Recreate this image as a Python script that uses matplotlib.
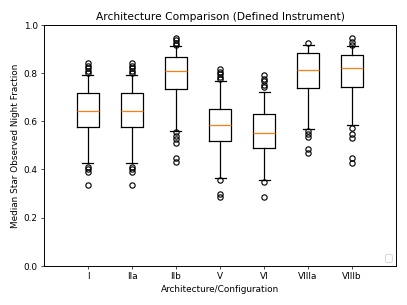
import matplotlib
matplotlib.use("Agg")
import matplotlib.pyplot as plt

# values (box stats per architecture)
labels = ["I", "IIa", "IIb", "V", "VI", "VIIIa", "VIIIb"]
medians = [0.643, 0.643, 0.809, 0.584, 0.550, 0.813, 0.820]
q1 = [0.575, 0.575, 0.733, 0.517, 0.490, 0.737, 0.741]
q3 = [0.716, 0.716, 0.866, 0.650, 0.629, 0.882, 0.875]
whis_lo = [0.425, 0.425, 0.560, 0.363, 0.356, 0.568, 0.584]
whis_hi = [0.792, 0.792, 0.910, 0.765, 0.723, 0.917, 0.910]
fliers = [
    [0.80, 0.81, 0.82, 0.83, 0.84, 0.41, 0.40, 0.39, 0.335],
    [0.80, 0.81, 0.82, 0.83, 0.84, 0.41, 0.40, 0.39, 0.335],
    [0.915, 0.925, 0.935, 0.945, 0.555, 0.54, 0.525, 0.51, 0.449, 0.432],
    [0.775, 0.785, 0.795, 0.805, 0.815, 0.356, 0.300, 0.285],
    [0.740, 0.752, 0.765, 0.777, 0.790, 0.350, 0.284],
    [0.924, 0.558, 0.547, 0.536, 0.485, 0.468],
    [0.917, 0.930, 0.945, 0.570, 0.545, 0.530, 0.446, 0.425],
]

stats = []
for i in range(len(labels)):
    stats.append(dict(label=labels[i], med=medians[i], q1=q1[i], q3=q3[i],
                      whislo=whis_lo[i], whishi=whis_hi[i], fliers=fliers[i]))

fig = plt.figure(figsize=(6.4, 4.8), dpi=63.6)
ax = fig.add_axes([0.108, 0.128, 0.865, 0.79])

lw = 1.4
ax.bxp(stats, positions=range(1, len(labels) + 1), widths=0.5,
       boxprops=dict(linewidth=lw), whiskerprops=dict(linewidth=lw),
       capprops=dict(linewidth=lw), medianprops=dict(linewidth=lw, color="#ff7f0e"),
       flierprops=dict(markeredgewidth=1.3, markersize=6))
ax.set_xlim(0, 8)
ax.set_ylim(0, 1.0)
ax.set_xticks(range(1, len(labels) + 1))
ax.set_xticklabels(labels)
for s in ax.spines.values():
    s.set_linewidth(1.1)

ax.set_title("Architecture Comparison (Defined Instrument)")
ax.set_xlabel("Architecture/Configuration")
ax.set_ylabel("Median Star Observed Night Fraction")
ax.legend(handles=[], loc="lower right")

fig.savefig("out.png", dpi=63.6)
